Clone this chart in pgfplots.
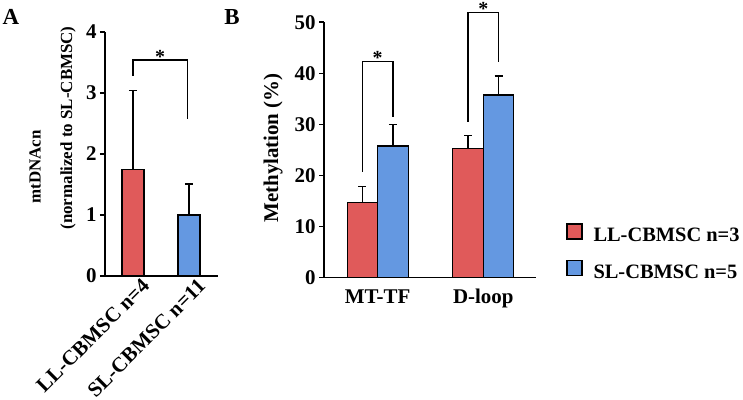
\documentclass[border=0pt]{standalone}
\usepackage{fontspec}
\setmainfont{Liberation Serif}
\usepackage{pgfplots}
\pgfplotsset{compat=1.18}
\definecolor{cred}{RGB}{224,90,90}
\definecolor{cblue}{RGB}{100,152,225}
\begin{document}
\begin{tikzpicture}
\path[use as bounding box] (0,0) rectangle (743bp,400bp);
\pgfplotsset{
  common/.style={
    scale only axis, axis lines*=left,
    axis line style={line width=1.6bp, black},
    tick align=outside, major tick length=5bp,
    every tick/.style={black, line width=1.6bp},
    xtick style={draw=none},
    /pgf/number format/assume math mode=true,
    tick label style={font=\fontsize{21}{25}\selectfont\bfseries},
    ymin=0, clip=false,
    error bars/y dir=plus, error bars/y explicit,
    error bars/error bar style={black, line width=1.3bp},
    error bars/error mark options={rotate=90, mark size=4bp, line width=1.3bp, black},
  }
}
% Panel A
\begin{axis}[common, at={(105bp,124bp)}, anchor=south west,
  width=113bp, height=244bp,
  xmin=-0.5, xmax=1.518, ymax=4, ytick={0,1,2,3,4},
  xtick={0,1}, xticklabels={LL-CBMSC n=4, SL-CBMSC n=11},
  xticklabel style={rotate=45, anchor=north east, inner sep=0pt, xshift=8bp, yshift=-3bp},
  ybar, bar width=22bp, bar shift=0pt]
\addplot[fill=cred, draw=black, line width=1.3bp] coordinates {(0,1.75) +- (0,1.29)};
\addplot[fill=cblue, draw=black, line width=1.3bp] coordinates {(1,1.0) +- (0,0.51)};
\draw[line width=1.3bp] (axis cs:0,3.28) -- (axis cs:0,3.54) -- (axis cs:0.97,3.54) -- (axis cs:0.97,2.57);
\node[anchor=base, inner sep=0pt, font=\fontsize{20}{24}\selectfont\bfseries] at ([yshift=-3bp]axis cs:0.485,3.54) {*};
\end{axis}
\node[rotate=90, font=\fontsize{17}{20}\selectfont\bfseries] at (35bp,233bp) {mtDNAcn};
\node[rotate=90, font=\fontsize{17}{20}\selectfont\bfseries] at (68bp,272bp) {(normalized to SL-CBMSC)};
% Panel B
\begin{axis}[common, at={(324bp,122.3bp)}, anchor=south west,
  width=212bp, height=255.4bp,
  xmin=-0.508, xmax=1.499, ymax=50, ytick={0,10,20,30,40,50},
  xtick={0,1}, xticklabels={MT-TF, D-loop},
  xticklabel style={anchor=north, text height=14bp, text depth=4bp, inner sep=0pt, yshift=-7bp},
  ylabel={Methylation (\%)},
  ylabel style={font=\fontsize{21}{25}\selectfont\bfseries, at={(axis description cs:-0.24,0.508)}, anchor=center, rotate=0},
  ybar=0pt, bar width=30.5bp,
  legend style={at={(axis description cs:1.1415,0.214)}, anchor=north west,
    draw=none, fill=none, inner sep=0pt, row sep=14bp,
    font=\fontsize{20.5}{24}\selectfont\bfseries,
    nodes={inner sep=0pt, text height=14bp, text depth=4bp},
    /tikz/every odd column/.append style={column sep=11bp}},
  legend cell align=left]
\addplot[fill=cred, draw=black, line width=1.3bp,
  legend image code/.code={\draw[fill=cred, draw=black, line width=1.3bp] (0bp,-2bp) rectangle (15bp,13bp);}]
  coordinates {(0,14.75) +- (0,3.05) (1,25.3) +- (0,2.5)};
\addlegendentry{LL-CBMSC n=3}
\addplot[fill=cblue, draw=black, line width=1.3bp,
  legend image code/.code={\draw[fill=cblue, draw=black, line width=1.3bp] (0bp,-2bp) rectangle (15bp,13bp);}]
  coordinates {(0,25.8) +- (0,4.2) (1,35.75) +- (0,3.75)};
\addlegendentry{SL-CBMSC n=5}
\draw[line width=1.3bp] (axis cs:-0.144,20.7) -- (axis cs:-0.144,42.3) -- (axis cs:0.144,42.3) -- (axis cs:0.144,31.5);
\draw[line width=1.3bp] (axis cs:0.856,30.5) -- (axis cs:0.856,51.9) -- (axis cs:1.144,51.9) -- (axis cs:1.144,42.3);
\node[anchor=base, inner sep=0pt, font=\fontsize{20}{24}\selectfont\bfseries] at ([yshift=-3bp]axis cs:0,42.3) {*};
\node[anchor=base, inner sep=0pt, font=\fontsize{20}{24}\selectfont\bfseries] at ([yshift=-3bp]axis cs:1,51.9) {*};
\end{axis}
\node[font=\fontsize{23}{27}\selectfont\bfseries] at (11bp,383bp) {A};
\node[font=\fontsize{23}{27}\selectfont\bfseries] at (232bp,383bp) {B};
\end{tikzpicture}
\end{document}
